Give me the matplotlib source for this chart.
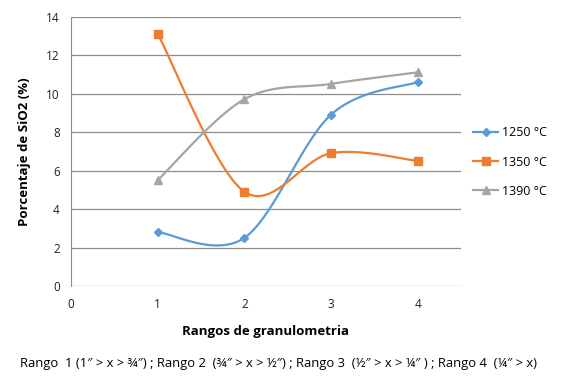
import numpy as np
import matplotlib
matplotlib.use("Agg")
import matplotlib.pyplot as plt

plt.rcParams['font.family'] = ['Open Sans', 'DejaVu Sans']

rangos = [1, 2, 3, 4]
s1250 = [2.8, 2.5, 8.9, 10.6]
s1350 = [13.1, 4.9, 6.9, 6.5]
s1390 = [5.5, 9.7, 10.5, 11.1]
labels = ['1250 °C', '1350 °C', '1390 °C']
colors = ['#5B9BD5', '#ED7D31', '#A5A5A5']
markers = ['D', 's', '^']
msizes = [4, 5.5, 5.5]


def smooth(x, y, n=40):
    x = np.asarray(x, float); y = np.asarray(y, float)
    px = np.concatenate([[x[0]], x, [x[-1]]])
    py = np.concatenate([[y[0]], y, [y[-1]]])
    xs, ys = [], []
    t = np.linspace(0, 1, n)
    for i in range(1, len(px) - 2):
        p0 = np.array([px[i], py[i]]); p3 = np.array([px[i + 1], py[i + 1]])
        p1 = p0 + (np.array([px[i + 1], py[i + 1]]) - np.array([px[i - 1], py[i - 1]])) / 6
        p2 = p3 - (np.array([px[i + 2], py[i + 2]]) - np.array([px[i], py[i]])) / 6
        b = ((1 - t) ** 3)[:, None] * p0 + (3 * (1 - t) ** 2 * t)[:, None] * p1 + \
            (3 * (1 - t) * t ** 2)[:, None] * p2 + (t ** 3)[:, None] * p3
        xs.extend(b[:, 0]); ys.extend(b[:, 1])
    return np.array(xs), np.array(ys)


fig = plt.figure(figsize=(5.82, 3.87), dpi=100)
ax = fig.add_axes([71 / 582, 1 - 286 / 387, 390 / 582, 269.5 / 387])

for ys, lab, c, m, ms in zip([s1250, s1350, s1390], labels, colors, markers, msizes):
    sx, sy = smooth(rangos, ys)
    ax.plot(sx, sy, color=c, lw=1.6, zorder=3)
    ax.plot(rangos, ys, ls='none', marker=m, color=c, ms=ms, zorder=4)
    ax.plot([], [], color=c, lw=1.6, marker=m, ms=ms, label=lab)

ax.set_xlim(0, 4.5)
ax.set_ylim(0, 14)
ax.set_xticks([0, 1, 2, 3, 4])
ax.set_yticks(range(0, 15, 2))
ax.yaxis.grid(True, color='#8C8C8C', lw=0.9)
ax.set_axisbelow(True)
for s in ['top', 'right', 'bottom']:
    ax.spines[s].set_visible(False)
ax.spines['left'].set_color('#8C8C8C')
ax.tick_params(length=0, labelsize=8.5, colors='#222222')
ax.tick_params(axis='x', pad=9)
ax.tick_params(axis='y', pad=8)

ax.set_ylabel('Porcentaje de SiO2 (%)', fontsize=9.5, fontweight='bold', labelpad=11)
fig.text(266 / 582, 1 - 331 / 387, 'Rangos de granulometria', ha='center', va='center',
         fontsize=9.5, fontweight='bold')
fig.text(20 / 582, 1 - 364 / 387,
         'Rango  1 (1\u2033 > x > \u00be\u2033) ; Rango 2  (\u00be\u2033 > x > \u00bd\u2033) ; Rango 3  (\u00bd\u2033 > x > \u00bc\u2033 ) ; Rango 4  (\u00bc\u2033 > x)',
         ha='left', va='center', fontsize=9.4)

fig.legend(loc='upper left', bbox_to_anchor=(462 / 582, 1 - 115 / 387), frameon=False,
           fontsize=9, labelspacing=1.3, handlelength=2.0, handletextpad=0.3)

fig.savefig('out.png', dpi=100)
